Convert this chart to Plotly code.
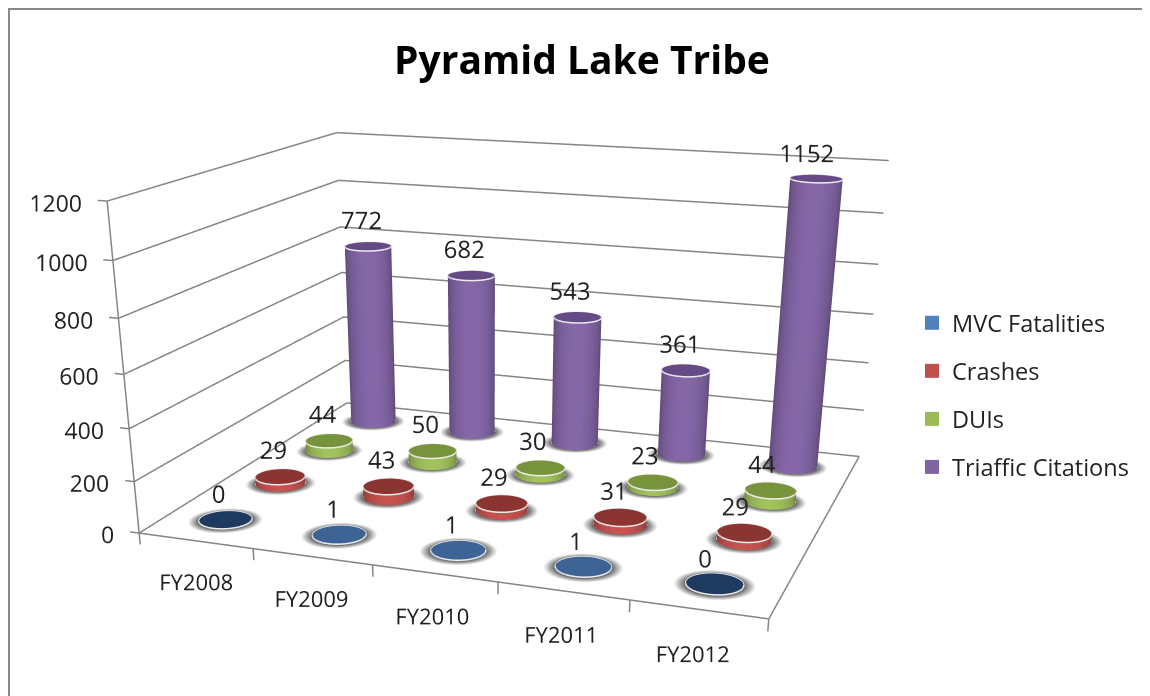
import numpy as np
import plotly.graph_objects as go

categories = ["FY2008", "FY2009", "FY2010", "FY2011", "FY2012"]
series_names = ["MVC Fatalities", "Crashes", "DUIs", "Triaffic Citations"]
mvc = [0, 1, 1, 1, 0]
crashes = [29, 43, 29, 31, 29]
duis = [44, 50, 30, 23, 44]
citations = [772, 682, 543, 361, 1152]
z_ticks = [0, 200, 400, 600, 800, 1000, 1200]
all_series = [mvc, crashes, duis, citations]

# Camera fitted to the reference (plotly's fixed 45 degree field of view needs a tall scene
# to reach the reference's mild perspective; only the top of the page is in the window).
EYE = np.array([0.8800, -2.5585, 0.6668])
LOOK = np.array([0.1941, -0.6882, -0.3073])
AY, AZ = 0.7866, 0.5068
HH, WW, PX = 1400, 1134, 481.0

xr = (-1.0, 5.0); yr = (-1.0, 4.0); zr = (-200.0, 1300.0)
fl = (-.5, 4.5); bl = (-.5, 3.5)
off = np.array([((xr[0]+xr[1])/2-2)/5, ((yr[0]+yr[1])/2-1.5)/4*AY, ((zr[0]+zr[1])/2-600)/1200*AZ])
E = EYE-off; C = LOOK-off
asp = dict(x=(xr[1]-xr[0])/5, y=(yr[1]-yr[0])/4*AY, z=(zr[1]-zr[0])/1200*AZ)

fig = go.Figure()
colors = {"side": [(79,129,189),(192,80,77),(155,187,89),(128,100,162)],
          "top": [(61,100,148),(139,53,51),(119,147,60),(102,74,133)]}
R = .21
ry = R*(4/5)/AY
n = 48
th = np.linspace(0, 2*np.pi, n, endpoint=False)

def rgb(c, k):
    return "rgb(%d,%d,%d)" % tuple(min(255, int(v*k)) for v in c)

LIGHT = dict(ambient=1, diffuse=0, specular=0, fresnel=0, roughness=1)
RIM = "#ececec"
GRID = "#858585"

def seg(x, y, z, w=3):
    fig.add_trace(go.Scatter3d(x=x, y=y, z=z, mode="lines", line=dict(color=GRID, width=w), showlegend=False, hoverinfo="skip"))

for t in z_ticks:
    seg([fl[0], fl[0], fl[1]], [bl[0], bl[1], bl[1]], [t, t, t])
seg([fl[0], fl[1], fl[1]], [bl[0], bl[0], bl[1]], [0, 0, 0])
seg([fl[0], fl[0]], [bl[0], bl[0]], [0, 1200])
for t in z_ticks:
    seg([fl[0], fl[0]-.08], [bl[0], bl[0]], [t, t])
for t in np.arange(-.5, 5):
    seg([t, t], [bl[0], bl[0]], [0, -45])
fig.add_trace(go.Scatter3d(x=[fl[0]-.03]*7, y=[bl[0]]*7, z=[t-8 for t in z_ticks], mode="text", text=[str(t) for t in z_ticks],
    textposition="middle left", textfont=dict(family="Open Sans", size=23, color="#222"), showlegend=False, hoverinfo="skip"))
fig.add_trace(go.Scatter3d(x=[i-.02 for i in range(5)], y=[bl[0]]*5, z=[-165]*5, mode="text", text=categories,
    textposition="middle center", textfont=dict(family="Open Sans", size=22, color="#222"), showlegend=False, hoverinfo="skip"))

for j, vals in enumerate(all_series):
    for i, v in enumerate(vals):
        cx = np.cos(th)*R+i; cy = np.sin(th)*ry+j
        sx = np.r_[i, np.cos(th)*R*1.02+i, np.cos(th)*R*1.42+i]
        sy = np.r_[j, np.sin(th)*ry*1.02+j, np.sin(th)*ry*1.42+j]
        I = []; J = []; K = []
        for a in range(n):
            b = (a+1) % n
            I += [0, a+1, b+1]; J += [a+1, b+1, b+1+n]; K += [b+1, a+1+n, a+1+n]
        fig.add_trace(go.Mesh3d(x=sx, y=sy, z=np.zeros(2*n+1), i=I, j=J, k=K,
            vertexcolor=["rgb(105,105,105)"]*(n+1)+["rgb(255,255,255)"]*n, lighting=LIGHT, showscale=False, hoverinfo="skip"))
        top = colors["top"][j] if v > 0 else (31, 58, 95)
        zt = max(v, 3)
        camang = np.arctan2(EYE[1]-(j-1.5)/4*AY, EYE[0]-(i-2)/5)
        if v > 0:
            xs = np.r_[cx, cx]; ys = np.r_[cy, cy]; zs = np.r_[np.zeros(n), np.full(n, zt)]
            shade = [rgb(colors["side"][j], .68+.36*max(0, np.cos(a-camang))) for a in th]*2
            I = []; J = []; K = []
            for a in range(n):
                b = (a+1) % n
                I += [a, b]; J += [b, b+n]; K += [a+n, a+n]
            fig.add_trace(go.Mesh3d(x=xs, y=ys, z=zs, i=I, j=J, k=K, vertexcolor=shade, lighting=LIGHT, hoverinfo="skip"))
        fig.add_trace(go.Mesh3d(x=np.r_[i, cx], y=np.r_[j, cy], z=np.full(n+1, zt), i=[0]*n, j=list(range(1, n+1)),
            k=[a % n+1 for a in range(1, n+1)], color=rgb(top, 1), lighting=LIGHT, hoverinfo="skip"))
        rx = np.r_[cx, cx[0]]; ryy = np.r_[cy, cy[0]]
        fig.add_trace(go.Scatter3d(x=rx, y=ryy, z=np.full(n+1, zt), mode="lines", line=dict(color=RIM, width=3), showlegend=False, hoverinfo="skip"))
        if v > 0:
            fig.add_trace(go.Scatter3d(x=rx, y=ryy, z=np.zeros(n+1), mode="lines", line=dict(color=RIM, width=3), showlegend=False, hoverinfo="skip"))
    fig.add_trace(go.Scatter3d(x=[i-.07 for i in range(5)], y=[j]*5, z=[v-30 for v in vals], mode="text", text=[str(v) for v in vals],
        textposition="top center", textfont=dict(family="Open Sans", size=24, color="#222"), showlegend=False, hoverinfo="skip"))
    fig.add_trace(go.Scatter3d(x=[None], y=[None], z=[None], mode="markers", name=series_names[j], legendgroup=series_names[j],
        marker=dict(symbol="square", size=14, color=rgb(colors["side"][j], 1))))

AX = dict(visible=False, showspikes=False)
fig.update_layout(width=WW, height=HH, margin=dict(l=0, r=0, t=0, b=0), paper_bgcolor="white", showlegend=True,
    title=dict(text="<b>Pyramid Lake Tribe</b>", x=574/WW, y=1-52/HH, xanchor="center", yanchor="middle",
               font=dict(family="Open Sans", size=39, color="black")),
    legend=dict(x=904/WW, y=1-293/HH, xanchor="left", yanchor="top", font=dict(family="Open Sans", size=23.5, color="#222"),
                tracegroupgap=14.5, bgcolor="rgba(0,0,0,0)"),
    shapes=[dict(type="line", xref="paper", yref="paper", x0=0, x1=0, y0=0, y1=1, line=dict(color="#888", width=4)),
            dict(type="line", xref="paper", yref="paper", x0=0, x1=1, y0=1, y1=1, line=dict(color="#888", width=4))],
    scene=dict(domain=dict(x=[0, 2*PX/WW], y=[0, 1]), aspectmode="manual", aspectratio=asp,
        camera=dict(eye=dict(x=E[0], y=E[1], z=E[2]), center=dict(x=C[0], y=C[1], z=C[2]), up=dict(x=0, y=0, z=1),
                    projection=dict(type="perspective")),
        xaxis=dict(range=xr, **AX), yaxis=dict(range=yr, **AX), zaxis=dict(range=zr, **AX)))
fig.write_html("out.html")
